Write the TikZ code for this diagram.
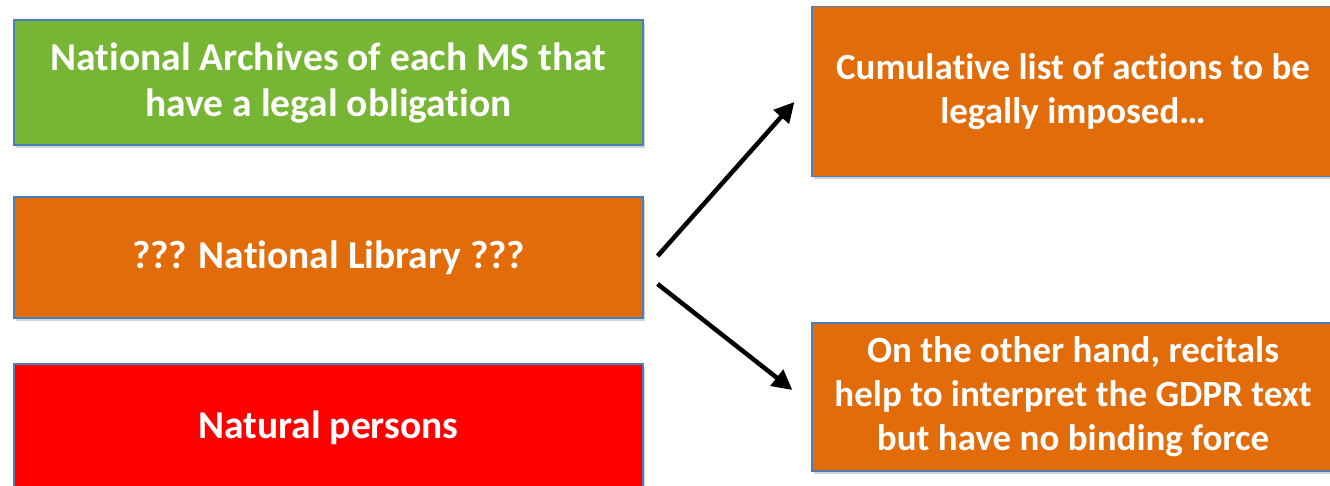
\documentclass[tikz,border=0pt]{standalone}
\usepackage{fontspec}
\setmainfont{Carlito}[Ligatures=NoCommon]
\usepackage{tikz}
\usetikzlibrary{arrows.meta,shadows}

\definecolor{boxgreen}{HTML}{77B535}
\definecolor{boxorange}{HTML}{E36C0A}
\definecolor{boxred}{HTML}{FF0000}
\definecolor{boxedge}{HTML}{4A7EBB}

\begin{document}
\begin{tikzpicture}[x=1pt, y=1pt,
    box/.style={draw=boxedge, line width=1.2pt, inner sep=0pt, align=center,
        text=white, font=\fontsize{39.5}{46}\selectfont\bfseries,
        drop shadow={opacity=0.35, shadow xshift=2pt, shadow yshift=-3pt}},
    leftbox/.style={box, minimum width=629pt},
    rightbox/.style={box, minimum width=522pt, font=\fontsize{37}{44}\selectfont\bfseries},
    arrowline/.style={line width=4.5pt, -{Triangle[length=20pt,width=20pt]}}]

        \useasboundingbox (0,0) rectangle (1330,-486);
        \clip (0,0) rectangle (1330,-486);

        %Left column
        \node[leftbox, fill=boxgreen, minimum height=125pt] (archives) at (328.5,-82.5)
            {National Archives of each MS that\\have a legal obligation};
        \node[leftbox, fill=boxorange, minimum height=121pt] (library) at (328.5,-257.5)
            {??? National Library ???};
        \node[leftbox, fill=boxred, minimum height=128pt] (persons) at (328.5,-428)
            {Natural persons};

        %Right column
        \node[rightbox, fill=boxorange, minimum height=170pt] (actions) at (1073,-91.5)
            {Cumulative list of actions to be\\legally imposed\dots};
        \node[rightbox, fill=boxorange, minimum height=148pt] (recitals) at (1073,-397)
            {On the other hand, recitals\\help to interpret the GDPR text\\but have no binding force};

        %Arrows
        \draw[arrowline] ([xshift=14pt,yshift=1.5pt]library.east) -- ([xshift=-17pt,yshift=-10.5pt]actions.west);
        \draw[arrowline] ([xshift=14pt,yshift=-26.5pt]library.east) -- ([xshift=-19pt,yshift=7pt]recitals.west);

    \end{tikzpicture}
\end{document}
